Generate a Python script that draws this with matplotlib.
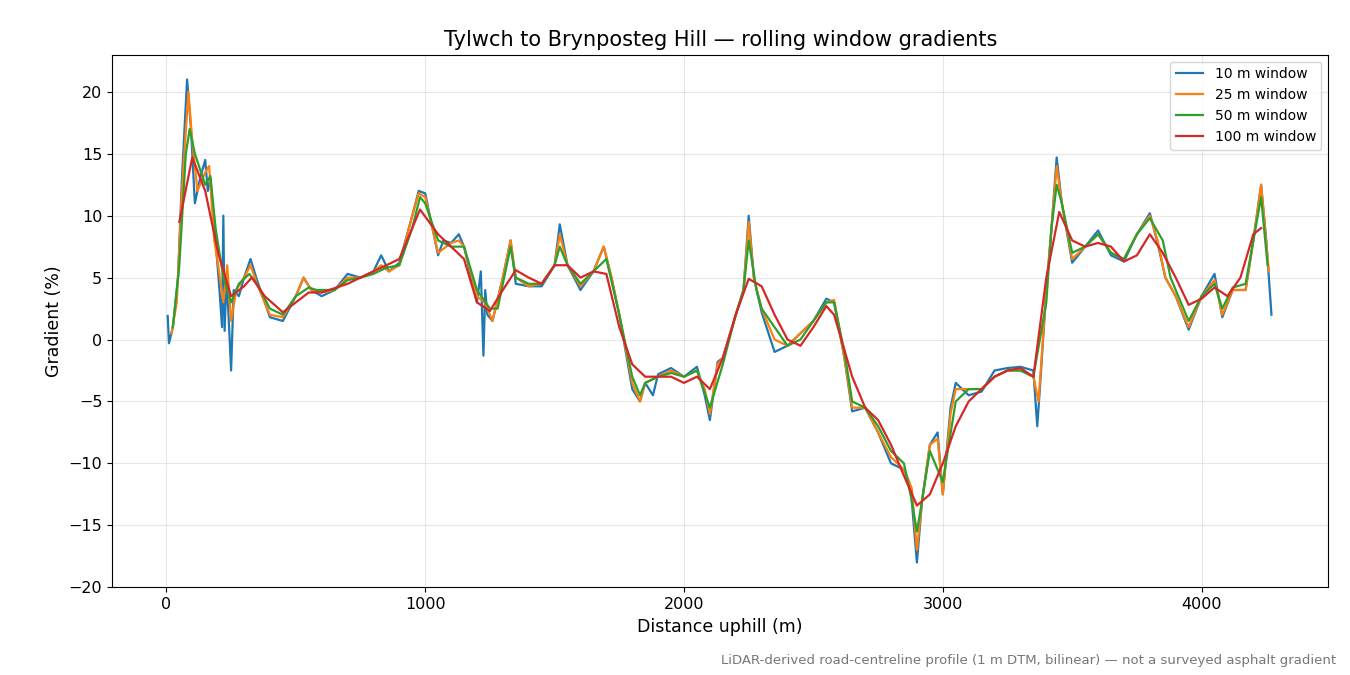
import matplotlib
matplotlib.use("Agg")
import matplotlib.pyplot as plt

x100 = [50,100,150,200,250,300,330,380,450,550,600,700,800,900,980,1050,1150,1200,1250,1300,1350,1400,1450,1500,1550,1600,1650,1700,1750,1800,1850,1900,1950,2000,2050,2100,2150,2200,2250,2300,2350,2400,2450,2500,2550,2580,2650,2700,2750,2800,2850,2900,2950,3000,3050,3100,3150,3200,3250,3300,3350,3400,3450,3500,3550,3600,3650,3700,3750,3800,3850,3900,3950,4000,4050,4100,4150,4200,4230]
y100 = [9.5,14.7,12,7,3.5,4.3,5,3.5,2.2,3.8,3.8,4.5,5.5,6.5,10.5,8.5,6.5,3,2.3,4,5.6,5,4.5,6,6,5,5.5,5.3,1,-2,-3,-3,-3,-3.5,-3,-4,-1.5,2,4.9,4.3,2,0,-0.5,1,2.7,2,-3,-5.5,-6.5,-8.5,-11,-13.4,-12.5,-10,-7,-5,-4,-3,-2.5,-2.3,-3,5,10.3,8,7.5,7.8,7.5,6.3,6.8,8.5,7,5,2.8,3.3,4.2,3.5,5,8.5,9]

x50 = [25,50,75,90,110,150,170,190,220,250,280,320,350,400,450,500,550,580,650,700,750,800,850,900,950,980,1000,1050,1100,1150,1200,1250,1280,1330,1350,1400,1450,1500,1520,1550,1600,1650,1700,1750,1800,1830,1850,1900,1950,2000,2050,2100,2150,2200,2230,2250,2280,2300,2350,2400,2450,2500,2550,2580,2620,2650,2700,2750,2800,2850,2880,2900,2920,2950,3000,3050,3100,3150,3200,3250,3300,3350,3400,3420,3440,3460,3500,3550,3600,3650,3700,3750,3800,3850,3880,3900,3950,4000,4050,4080,4120,4170,4200,4230,4255]
y50 = [1,6,15,17,15,12.5,13.2,9,5,3,4.5,5.3,4.5,2.5,2,3.5,4.2,4,4,4.8,5,5.3,5.8,6,9,11.5,11,8,7.5,7.5,4,2.5,2.5,7.5,5,4.5,4.5,6,7.5,6,4.5,5.5,6.5,2,-3,-4.5,-3.5,-3,-2.7,-3,-2.5,-5.5,-2,2,4,8,4,2.5,1,-0.5,0,1.5,3,3,-1,-5,-5.5,-7,-9,-10,-13,-15.5,-13,-9,-11.5,-5,-4,-4,-3,-2.5,-2.5,-3,3,9,12.5,11,7,7.5,8.5,7,6.5,8.5,9.8,8,5,4,1.5,3.5,4.5,2.5,4.2,4.5,8,11.5,6]

x25 = [20,40,60,85,100,120,150,165,185,200,220,235,250,270,300,325,350,400,450,500,530,560,600,650,700,750,800,830,860,900,950,975,1000,1050,1100,1130,1150,1200,1230,1260,1300,1330,1350,1400,1450,1500,1520,1550,1600,1650,1690,1720,1750,1800,1830,1850,1900,1950,2000,2050,2080,2100,2130,2150,2200,2230,2250,2270,2300,2350,2400,2450,2500,2550,2580,2620,2650,2700,2750,2800,2850,2880,2900,2920,2950,2980,3000,3030,3050,3100,3150,3200,3250,3300,3350,3370,3400,3420,3440,3460,3500,3550,3600,3650,3700,3750,3800,3830,3860,3900,3950,4000,4050,4080,4120,4170,4200,4230,4260]
y25 = [0.5,3,12,20,16,12,13.5,14,8,6,3,6,1.5,4,5,6,4.5,2,1.8,3.5,5,4,3.8,4,5,5,5.5,6,5.5,6,10,11.8,11.5,7,7.8,8,7.5,3.5,3,1.5,5,8,5,4.3,4.5,6,8.5,6,4.3,5.5,7.5,5,2,-3.5,-5,-3.5,-3,-2.5,-3,-2.5,-4,-6,-2,-1.5,2,4,9.5,5,2.5,0,-0.5,0.5,1.5,3,3.2,-1.5,-5.5,-5.5,-7.5,-9.5,-10.5,-12,-17,-13,-8.5,-8,-12.5,-6,-4,-4,-4,-3,-2.5,-2.5,-3,-5,4,9,14,11,6.5,7.5,8.5,7,6.5,8.5,10,8,5,3.5,1,3.5,4.8,2,4,4,8,12.5,5.5]

x10 = [5,10,25,45,60,80,95,110,130,150,160,170,190,205,215,220,225,232,240,250,260,280,300,325,350,400,450,500,530,560,600,650,700,750,800,830,860,900,950,975,1000,1050,1070,1100,1130,1150,1200,1215,1225,1232,1240,1260,1300,1330,1350,1400,1450,1500,1520,1550,1600,1650,1690,1720,1750,1800,1830,1850,1880,1900,1950,2000,2050,2080,2100,2130,2150,2200,2230,2250,2270,2300,2350,2400,2450,2500,2550,2580,2620,2650,2700,2750,2800,2850,2870,2880,2900,2920,2950,2980,3000,3030,3050,3100,3150,3200,3250,3300,3350,3365,3375,3400,3420,3440,3460,3500,3550,3600,3650,3700,3750,3800,3830,3860,3900,3950,4000,4050,4080,4120,4170,4200,4230,4250,4270]
y10 = [1.9,-0.3,1,5,13,21,17,11,13,14.5,12,13,8,4,1,10,0.7,5,2,-2.5,4,3.5,5,6.5,4.8,1.8,1.5,3.5,5,4,3.5,4,5.3,5,5.5,6.8,5.5,6.2,10,12,11.8,6.8,8,7.8,8.5,7.5,3,5.5,-1.3,4,2,1.5,5,8,4.5,4.3,4.3,6,9.3,6,4,5.5,7.5,5,2,-4,-5,-3.5,-4.5,-2.8,-2.3,-3,-2.2,-4.5,-6.5,-1.8,-1.5,2,4,10,5,2.2,-1,-0.5,0.5,1.5,3.3,3,-1.5,-5.8,-5.5,-7.5,-10,-10.5,-11.5,-13,-18,-13,-8.5,-7.5,-12.5,-5.5,-3.5,-4.5,-4.2,-2.5,-2.3,-2.2,-2.5,-7,-4,4,9,14.7,11,6.2,7.5,8.8,6.8,6.3,8.5,10.2,7.8,5,3.5,0.8,3.5,5.3,1.8,4,4,8,12.5,8,2]

fig = plt.figure(figsize=(13.5, 6.75), dpi=100)
ax = fig.add_axes([0.083, 0.130, 0.901, 0.789])
ax.plot(x10, y10, color="#1f77b4", lw=1.6, label="10 m window")
ax.plot(x25, y25, color="#ff7f0e", lw=1.6, label="25 m window")
ax.plot(x50, y50, color="#2ca02c", lw=1.6, label="50 m window")
ax.plot(x100, y100, color="#d62728", lw=1.6, label="100 m window")
ax.set_xlim(-210, 4490)
ax.set_ylim(-20, 23)
ax.set_yticks(range(-20, 21, 5))
ax.set_xticks([0, 1000, 2000, 3000, 4000])
ax.grid(True, alpha=0.3)
ax.tick_params(labelsize=11.5)
ax.set_xlabel("Distance uphill (m)", fontsize=12.5)
ax.set_ylabel("Gradient (%)", fontsize=12.5)
ax.set_title("Tylwch to Brynposteg Hill — rolling window gradients", fontsize=15)
ax.legend(loc="upper right", fontsize=10)
fig.text(0.99, 0.012, "LiDAR-derived road-centreline profile (1 m DTM, bilinear) — not a surveyed asphalt gradient",
         ha="right", va="bottom", fontsize=9.5, color="#777777")
fig.savefig("out.png", dpi=100)
